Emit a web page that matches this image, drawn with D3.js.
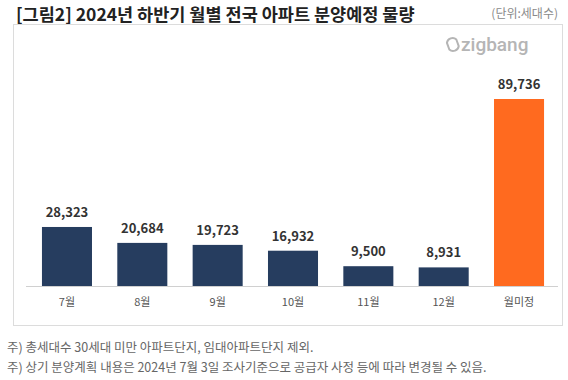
<!DOCTYPE html>
<html><head><meta charset="utf-8">
<script src="https://cdn.jsdelivr.net/npm/d3@7"></script>
<style>
html,body{margin:0;padding:0;background:#fff;}
svg{display:block;font-family:"Noto Sans CJK KR","Noto Sans",sans-serif;}
</style></head>
<body>
<svg id="chart" width="568" height="380"></svg>
<script>
const categories = ["7월","8월","9월","10월","11월","12월","월미정"];
const values = [28323, 20684, 19723, 16932, 9500, 8931, 89736];
const highlight = ["월미정"];
const title = "[그림2] 2024년 하반기 월별 전국 아파트 분양예정 물량";
const unitLabel = "(단위:세대수)";
const notes = ["주) 총세대수 30세대 미만 아파트단지, 임대아파트단지 제외.",
               "주) 상기 분양계획 내용은 2024년 7월 3일 조사기준으로 공급자 사정 등에 따라 변경될 수 있음."];

const svg = d3.select("#chart");

// title
svg.append("text").attr("x",16).attr("y",20.5)
  .attr("font-size",17.5).attr("font-weight",700).attr("fill","#222")
  .text(title);
svg.append("text").attr("x",558).attr("y",18).attr("text-anchor","end")
  .attr("font-size",12).attr("fill","#8a8a8a").text(unitLabel);

// box
svg.append("rect").attr("x",13.5).attr("y",24.5).attr("width",549).attr("height",301)
  .attr("fill","#fff").attr("stroke","#dcdcdc").attr("stroke-width",1);

// logo
const logo = svg.append("g").attr("transform","translate(446,45)");
logo.append("path")
  .attr("d","M2,-4 C4,-8 10,-8 12,-4 L12,3 C10,7 4,7 2,3 Z")
  .attr("fill","none").attr("stroke","#b5b5b5").attr("stroke-width",2).attr("stroke-linejoin","round")
  .attr("transform","rotate(-20 7 0)");
logo.append("text").attr("x",15).attr("y",6).attr("font-family","Roboto, 'Noto Sans', sans-serif")
  .attr("font-size",19).attr("font-weight",500).attr("fill","#b5b5b5").text("zigbang");

const x = d3.scaleBand().domain(categories).range([29.3, 556.7])
  .paddingInner(0.336).paddingOuter(0.168);
const y = d3.scaleLinear().domain([0, d3.max(values)]).range([286, 99]);

const data = categories.map((c,i)=>({c, v: values[i]}));

svg.append("g").selectAll("rect").data(data).join("rect")
  .attr("x", d=>x(d.c)).attr("width", x.bandwidth())
  .attr("y", d=>y(d.v)).attr("height", d=>y(0)-y(d.v))
  .attr("fill", d=> highlight.includes(d.c) ? "#FF6A1F" : "#263D5F");

// axis
const xAxis = svg.append("g").attr("transform",`translate(0,${y(0)})`)
  .call(d3.axisBottom(x).tickSize(0).tickPadding(12));
xAxis.select(".domain").attr("stroke","#d0d0d0").attr("d","M26,0.5H558");
xAxis.selectAll(".tick text").attr("font-size",11).attr("fill","#555")
  .attr("font-family","'Noto Sans CJK KR', sans-serif");

// value labels
svg.append("g").selectAll("text").data(data).join("text")
  .attr("x", d=>x(d.c)+x.bandwidth()/2).attr("y", d=>y(d.v)-10)
  .attr("text-anchor","middle").attr("font-size",13).attr("font-weight",700).attr("fill","#333")
  .text(d=>d3.format(",")(d.v));

// notes
svg.append("g").selectAll("text").data(notes).join("text")
  .attr("x",7).attr("y",(d,i)=>352+i*20)
  .attr("font-size",12.5).attr("fill","#666").text(d=>d);
</script>
</body></html>
